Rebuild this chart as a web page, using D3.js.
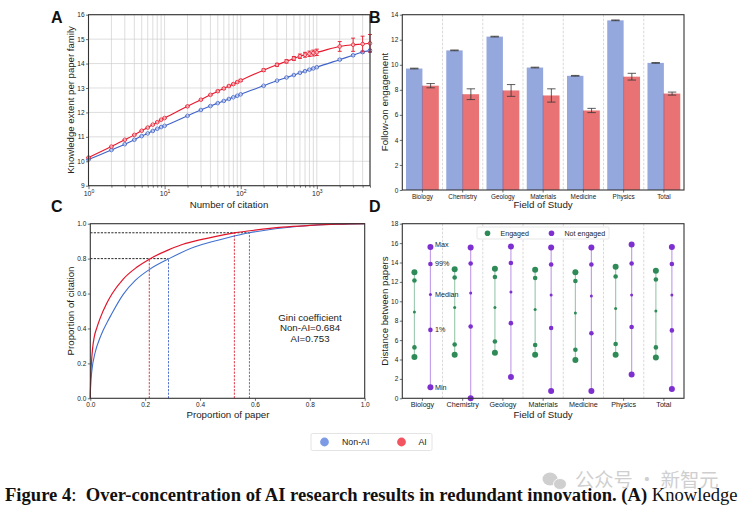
<!DOCTYPE html>
<html><head><meta charset="utf-8">
<script src="https://cdnjs.cloudflare.com/ajax/libs/d3/7.8.5/d3.min.js"></script>
<style>
html,body{margin:0;padding:0;background:#fff}
svg{display:block}
text{font-family:"Liberation Sans",Arial,sans-serif;fill:#222}
</style></head><body><svg id="c" width="742" height="512"></svg>
<script>
// Panel A
const citations=[1,2,3,4,5,6,7,8,9,10,20,30,40,50,60,70,80,90,100,200,300,400,500,600,700,800,900,1000,2000,3000,4000,5000];
const extentAI=[10.15,10.6,10.88,11.08,11.25,11.38,11.5,11.6,11.7,11.77,12.25,12.52,12.72,12.87,12.98,13.08,13.16,13.24,13.31,13.73,13.95,14.09,14.21,14.3,14.36,14.4,14.43,14.46,14.7,14.77,14.8,14.83];
const extentNon=[10.07,10.46,10.7,10.88,11.03,11.14,11.24,11.33,11.4,11.45,11.86,12.1,12.26,12.38,12.47,12.55,12.62,12.68,12.74,13.09,13.3,13.43,13.53,13.62,13.69,13.75,13.8,13.85,14.16,14.34,14.47,14.53];
const extentAIErr=[.01,.01,.01,.01,.01,.01,.01,.01,.01,.01,.02,.02,.02,.03,.03,.03,.03,.03,.04,.05,.06,.07,.08,.09,.1,.11,.12,.13,.2,.27,.32,.36];
const extentNonErr=[.005,.005,.005,.005,.005,.005,.005,.005,.005,.005,.01,.01,.01,.01,.01,.01,.01,.01,.01,.01,.01,.01,.02,.02,.02,.02,.02,.02,.03,.03,.04,.05];
// Panel B
const fields=["Biology","Chemistry","Geology","Materials","Medicine","Physics","Total"];
const engageNon=[9.7,11.15,12.25,9.78,9.12,13.55,10.15];
const engageAI=[8.33,7.65,7.95,7.55,6.35,9.05,7.7];
const engageNonErr=[.03,.03,.03,.03,.03,.03,.03];
const engageAIErr=[.17,.43,.47,.53,.17,.27,.12];
// Panel C
const paperAI=[0,.001,.004,.008,.0146,.024,.035,.06,.08,.12,.169,.215,.285,.33,.38,.45,.525,.6,.7,.8,.9,1];
const citeAI=[0,.1,.2,.28,.353,.405,.455,.544,.6,.683,.75,.797,.85,.878,.9,.925,.947,.963,.98,.99,.997,1];
const paperNon=[0,.001,.006,.017,.035,.047,.063,.075,.12,.164,.2176,.287,.382,.45,.5,.58,.65,.7,.8,.9,1];
const citeNon=[0,.067,.162,.258,.345,.39,.44,.475,.595,.675,.74,.8,.868,.9,.92,.948,.965,.975,.99,.997,1];
const giniLines=["Gini coefficient","Non-AI=0.684","AI=0.753"];
// Panel D: min, 1%, median, 99%, max
const engagedStats=[[4.25,5.25,8.9,12.15,13.0],[4.5,5.55,9.35,12.45,13.3],[4.7,5.85,9.35,12.5,13.35],[4.5,5.5,9.15,12.4,13.25],[3.95,5.0,8.8,12.1,13.0],[4.5,5.6,9.25,12.55,13.55],[4.2,5.25,9.0,12.25,13.15]];
const notEngagedStats=[[1.15,7.05,10.7,13.85,15.6],[0,7.4,10.85,13.9,15.55],[2.2,7.75,10.95,13.95,15.65],[.75,7.25,10.65,13.8,15.55],[.75,6.7,10.55,13.8,15.55],[2.45,7.35,10.65,13.9,15.85],[.95,7.0,10.65,13.85,15.6]];
const statLabels=["Min","1%","Median","99%","Max"];

const svg=d3.select("#c");
const ink="#333";
function frame(l,t,r,b){svg.append("rect").attr("x",l).attr("y",t).attr("width",r-l).attr("height",b-t).attr("fill","none").attr("stroke",ink).attr("stroke-width",1.1);}
function styleAxis(g,fs){g.select(".domain").remove();g.selectAll(".tick line").attr("stroke",ink).attr("stroke-width",.7);g.selectAll(".tick text").attr("font-size",fs).attr("fill","#222").attr("font-family","Liberation Sans");}
function label(x,y,s,rot,fs){const t=svg.append("text").attr("x",x).attr("y",y).attr("text-anchor","middle").attr("font-size",fs||9.7).text(s);if(rot)t.attr("transform",`rotate(-90 ${x} ${y})`);return t;}
function letter(x,y,s){svg.append("text").attr("x",x).attr("y",y).attr("font-size",16).attr("font-weight","bold").attr("fill","#111").style("fill","#111").text(s);}

// ---------- A
{
const L=88.5,R=370,T=14.7,B=185.7;
const x=d3.scaleLog().domain([1,5000]).range([L,R]);
const y=d3.scaleLinear().domain([9,16]).range([B,T]);
const vt=[];[1,10,100,1000].forEach(d=>{for(let k=1;k<10;k++){if(d*k<=5000)vt.push(d*k);}});
svg.append("g").selectAll("line").data(vt).join("line").attr("x1",x).attr("x2",x).attr("y1",T).attr("y2",B).attr("stroke","#cfcfcf").attr("stroke-width",.7);
svg.append("g").selectAll("line").data(y.ticks(7)).join("line").attr("x1",L).attr("x2",R).attr("y1",y).attr("y2",y).attr("stroke","#cfcfcf").attr("stroke-width",.7);
const series=[[extentNon,extentNonErr,"#3f63c8"],[extentAI,extentAIErr,"#e8182c"]];
const line=d3.line().curve(d3.curveMonotoneX);
series.forEach(([v,e,c])=>{
 svg.append("path").attr("d",line(citations.map((d,i)=>[x(d),y(v[i])]))).attr("fill","none").attr("stroke",c).attr("stroke-width",1.1);
 const g=svg.append("g").attr("stroke",c).attr("stroke-width",.9);
 citations.forEach((d,i)=>{
  g.append("line").attr("x1",x(d)).attr("x2",x(d)).attr("y1",y(v[i]-e[i])).attr("y2",y(v[i]+e[i]));
  [v[i]-e[i],v[i]+e[i]].forEach(q=>g.append("line").attr("x1",x(d)-2).attr("x2",x(d)+2).attr("y1",y(q)).attr("y2",y(q)));
 });
 svg.append("g").selectAll("circle").data(citations).join("circle").attr("cx",d=>x(d)).attr("cy",(d,i)=>y(v[i])).attr("r",1.8).attr("fill","#fff").attr("fill-opacity",.6).attr("stroke",c).attr("stroke-width",.8);
});
frame(L,T,R,B);
const gx=svg.append("g").attr("transform",`translate(0,${B})`).call(d3.axisBottom(x).tickValues(vt).tickSize(2).tickFormat(d=>""));
styleAxis(gx,7);
gx.selectAll(".tick").filter(d=>[1,10,100,1000].includes(d)).each(function(d){
 d3.select(this).select("line").attr("y2",3.5);
 const t=d3.select(this).select("text").attr("y",5).attr("dy","0.71em").attr("font-size",7);
 t.append("tspan").text("10");
 t.append("tspan").attr("dy","-2.5").attr("font-size",5).text(Math.round(Math.log10(d)));
});
const gy=svg.append("g").attr("transform",`translate(${L},0)`).call(d3.axisLeft(y).tickValues(d3.range(9,17)).tickSize(2.5).tickPadding(1.5).tickFormat(d3.format("d")));
styleAxis(gy,6.5);
label(73.5,100,"Knowledge extent per paper family",true,9.6);
label(229,208,"Number of citation",false,9.7);
letter(51,22.5,"A");
}

// ---------- B
{
const L=402.3,R=684,T=14.7,B=190;
const x=d3.scaleBand().domain(fields).range([L,R]);
const y=d3.scaleLinear().domain([0,14]).range([B,T]);
const hw=16.4;
svg.append("g").selectAll("line").data(fields.slice(1)).join("line").attr("x1",d=>x(d)).attr("x2",d=>x(d)).attr("y1",T).attr("y2",B).attr("stroke","#cfcfcf").attr("stroke-dasharray","2.5,1.5").attr("stroke-width",.8);
const center=d=>x(d)+x.bandwidth()/2;
svg.append("g").selectAll("rect").data(fields).join("rect").attr("x",d=>center(d)-hw).attr("width",hw).attr("y",(d,i)=>y(engageNon[i])).attr("height",(d,i)=>B-y(engageNon[i])).attr("fill","#95a8dd");
svg.append("g").selectAll("rect").data(fields).join("rect").attr("x",d=>center(d)).attr("width",hw).attr("y",(d,i)=>y(engageAI[i])).attr("height",(d,i)=>B-y(engageAI[i])).attr("fill","#e97374");
svg.append("g").selectAll("line").data(fields).join("line").attr("x1",center).attr("x2",center).attr("y1",(d,i)=>y(engageAI[i])).attr("y2",B).attr("stroke","#8a5a8c").attr("stroke-width",.7);
const err=(vals,errs,off)=>{const g=svg.append("g").attr("stroke","#333").attr("stroke-width",.8);
 fields.forEach((f,i)=>{const cx=center(f)+off;
  g.append("line").attr("x1",cx).attr("x2",cx).attr("y1",y(vals[i]-errs[i])).attr("y2",y(vals[i]+errs[i]));
  [vals[i]-errs[i],vals[i]+errs[i]].forEach(q=>g.append("line").attr("x1",cx-4.2).attr("x2",cx+4.2).attr("y1",y(q)).attr("y2",y(q)));
 });};
err(engageNon,engageNonErr,-8.2);err(engageAI,engageAIErr,8.2);
frame(L,T,R,B);
const gx=svg.append("g").attr("transform",`translate(0,${B})`).call(d3.axisBottom(x).tickSize(2.5).tickPadding(1.5));styleAxis(gx,6.4);
const gy=svg.append("g").attr("transform",`translate(${L},0)`).call(d3.axisLeft(y).tickValues(d3.range(0,15,2)).tickSize(2.5).tickPadding(1.5));styleAxis(gy,6.5);
label(387.5,102,"Follow-on engagement",true,9.7);
label(543,208,"Field of Study",false,9.7);
letter(369,22.5,"B");
}

// ---------- C
{
const L=90.3,R=364.7,T=223.7,B=398.3;
const x=d3.scaleLinear().domain([0,1]).range([L,R]);
const y=d3.scaleLinear().domain([0,1]).range([B,T]);
const line=d3.line().curve(d3.curveMonotoneX);
const hd=[[.8,.285],[.948,.58]];
svg.append("g").selectAll("line").data(hd).join("line").attr("x1",x(0)).attr("x2",d=>x(d[1])).attr("y1",d=>y(d[0])).attr("y2",d=>y(d[0])).attr("stroke","#111").attr("stroke-width",.9).attr("stroke-dasharray","2.2,1.3");
const vd=[[.215,.8,"#d92030"],[.525,.948,"#d92030"],[.285,.8,"#3f63c8"],[.58,.948,"#3f63c8"]];
svg.append("g").selectAll("line").data(vd).join("line").attr("x1",d=>x(d[0])).attr("x2",d=>x(d[0])).attr("y1",B).attr("y2",d=>y(d[1])).attr("stroke",d=>d[2]).attr("stroke-width",.9).attr("stroke-dasharray","2.2,1.3");
svg.append("path").attr("d",line(paperNon.map((d,i)=>[x(d),y(citeNon[i])]))).attr("fill","none").attr("stroke","#3f6fd0").attr("stroke-width",1.1);
svg.append("path").attr("d",line(paperAI.map((d,i)=>[x(d),y(citeAI[i])]))).attr("fill","none").attr("stroke","#e0152a").attr("stroke-width",1.2);
frame(L,T,R,B);
const gx=svg.append("g").attr("transform",`translate(0,${B})`).call(d3.axisBottom(x).tickValues(d3.range(0,1.01,.2)).tickSize(2.5).tickPadding(1.5).tickFormat(d3.format(".1f")));styleAxis(gx,6.5);
const gy=svg.append("g").attr("transform",`translate(${L},0)`).call(d3.axisLeft(y).tickValues(d3.range(0,1.01,.2)).tickSize(2.5).tickPadding(1.5).tickFormat(d3.format(".1f")));styleAxis(gy,6.5);
label(74,311,"Proportion of citation",true,9.7);
label(228,418,"Proportion of paper",false,9.7);
giniLines.forEach((s,i)=>label(310,321+i*10.3,s,false,9.7));
letter(51,211.5,"C");
}

// ---------- D
{
const L=402.3,R=684,T=223.7,B=398.3;
const x=d3.scaleBand().domain(fields).range([L,R]);
const y=d3.scaleLinear().domain([0,18]).range([B,T]);
svg.append("g").selectAll("line").data(fields.slice(1)).join("line").attr("x1",d=>x(d)).attr("x2",d=>x(d)).attr("y1",T).attr("y2",B).attr("stroke","#cfcfcf").attr("stroke-dasharray","2.5,1.5").attr("stroke-width",.8);
const sizes=[3,2.3,1.5,2.3,3];
const draw=(stats,off,c)=>{fields.forEach((f,i)=>{const cx=x(f)+x.bandwidth()/2+off,s=stats[i];
 svg.append("line").attr("x1",cx).attr("x2",cx).attr("y1",y(s[0])).attr("y2",y(s[4])).attr("stroke",c).attr("stroke-opacity",.45).attr("stroke-width",1.2);
 svg.append("g").selectAll("circle").data(s).join("circle").attr("cx",cx).attr("cy",d=>y(d)).attr("r",(d,j)=>sizes[j]).attr("fill",c);
});};
draw(engagedStats,-8,"#2e8b57");draw(notEngagedStats,8,"#7d2fd0");
const sx=x(fields[0])+x.bandwidth()/2+8;
statLabels.forEach((s,j)=>{const v=notEngagedStats[0][j];
 const off=[0,0,0,0,2][j];
 svg.append("text").attr("x",sx+4.5).attr("y",y(v)-off+2.4).attr("font-size",7.2).text(s);});
frame(L,T,R,B);
const gx=svg.append("g").attr("transform",`translate(0,${B})`).call(d3.axisBottom(x).tickSize(2.5).tickPadding(1.5));styleAxis(gx,7.2);
const gy=svg.append("g").attr("transform",`translate(${L},0)`).call(d3.axisLeft(y).tickValues(d3.range(0,19,2)).tickSize(2.5).tickPadding(1.5));styleAxis(gy,6.5);
label(387.5,311,"Distance between papers",true,9.7);
label(543,418,"Field of Study",false,9.7);
letter(369,211.5,"D");
// legend
svg.append("rect").attr("x",477).attr("y",227).attr("width",132).attr("height",12).attr("fill","#fff").attr("stroke","#ddd").attr("stroke-width",.7).attr("rx",1);
svg.append("circle").attr("cx",487.5).attr("cy",233.3).attr("r",2.8).attr("fill","#2e8b57");
svg.append("text").attr("x",500.5).attr("y",235.6).attr("font-size",7.1).text("Engaged");
svg.append("circle").attr("cx",551.5).attr("cy",233.3).attr("r",2.8).attr("fill","#7d2fd0");
svg.append("text").attr("x",564.5).attr("y",235.6).attr("font-size",7.1).text("Not engaged");
}

// ---------- bottom legend
svg.append("rect").attr("x",311).attr("y",433.5).attr("width",121).attr("height",17).attr("rx",1.5).attr("fill","#fff").attr("stroke","#ddd").attr("stroke-width",.8);
svg.append("circle").attr("cx",324.5).attr("cy",442).attr("r",4.4).attr("fill","#7d9be4");
svg.append("text").attr("x",342).attr("y",445).attr("font-size",8.8).text("Non-AI");
svg.append("circle").attr("cx",401.5).attr("cy",442).attr("r",4.4).attr("fill","#f2555f");
svg.append("text").attr("x",418.5).attr("y",445).attr("font-size",8.8).text("AI");

// ---------- watermark
const wm=svg.append("g").attr("fill","#cfcfcf");
wm.append("ellipse").attr("cx",550).attr("cy",479).attr("rx",7.5).attr("ry",6.5);
wm.append("ellipse").attr("cx",560).attr("cy",484).attr("rx",6.5).attr("ry",5.5).attr("stroke","#fff").attr("stroke-width",.8);
svg.append("text").attr("x",575).attr("y",487).attr("font-size",19.3).style("font-family","'Noto Sans CJK SC'").style("fill","#cfcfcf").text("公众号 · 新智元");

// ---------- caption
const cap=svg.append("text").attr("x",5).attr("y",501).attr("font-size",18.6).style("font-family","'Liberation Serif'").style("fill","#111");
cap.append("tspan").attr("font-weight","bold").text("Figure 4");
cap.append("tspan").text(":\u00a0\u00a0");
cap.append("tspan").attr("font-weight","bold").text("Over-concentration of AI research results in redundant innovation. (A)");
cap.append("tspan").text(" Knowledge");
</script></body></html>
